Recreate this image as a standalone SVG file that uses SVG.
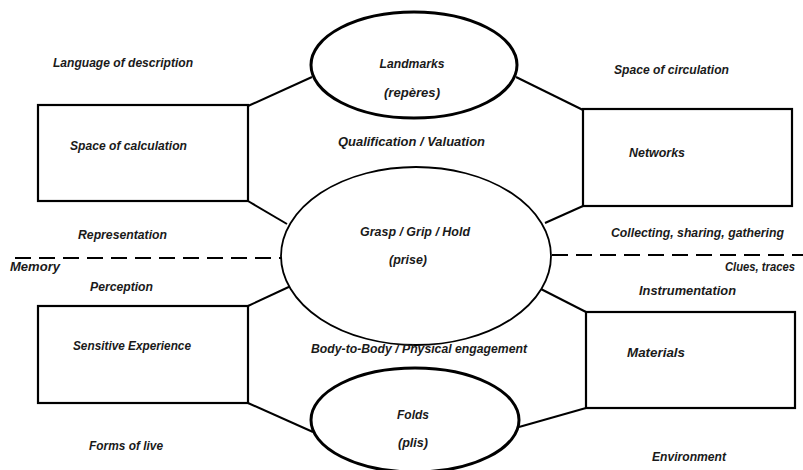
<svg xmlns="http://www.w3.org/2000/svg" width="803" height="470" viewBox="0 0 803 470">
<style>
text{font-family:"Liberation Sans",Arial,sans-serif;font-style:italic;font-weight:bold;font-size:12.5px;fill:#1a1a1a}
.c{text-anchor:middle}
.box{fill:#fff;stroke:#000;stroke-width:2.2}
.oval{fill:#fff;stroke:#000;stroke-width:3}
.oval2{fill:#fff;stroke:#000;stroke-width:1.8}
.ln{stroke:#000;stroke-width:2;fill:none}
.dash{stroke:#000;stroke-width:2.2;stroke-dasharray:16,8;fill:none}
</style>
<rect width="803" height="470" fill="#fff"/>
<g id="connectors">
<line class="ln" x1="248" y1="106" x2="312" y2="77"/>
<line class="ln" x1="516" y1="77" x2="583" y2="110"/>
<line class="ln" x1="248" y1="201" x2="287" y2="224"/>
<line class="ln" x1="583" y1="206" x2="545" y2="223"/>
<line class="ln" x1="293" y1="285" x2="248" y2="306"/>
<line class="ln" x1="537" y1="287" x2="586" y2="312"/>
<line class="ln" x1="248" y1="403" x2="313" y2="432"/>
<line class="ln" x1="586" y1="408" x2="519" y2="427"/>
<line class="dash" x1="15" y1="258" x2="283" y2="258"/>
<line class="dash" x1="552" y1="255" x2="803" y2="255"/>
</g>
<g id="landmarks">
<ellipse class="oval" cx="414" cy="65" rx="103" ry="53"/>
<text class="c" x="412" y="68" textLength="65" lengthAdjust="spacingAndGlyphs">Landmarks</text>
<text class="c" x="412" y="97" textLength="56" lengthAdjust="spacingAndGlyphs">(repères)</text>
</g>
<g id="grasp">
<ellipse class="oval2" cx="416" cy="256" rx="135" ry="89"/>
<text x="360" y="236" textLength="110" lengthAdjust="spacingAndGlyphs">Grasp / Grip / Hold</text>
<text class="c" x="408" y="264" textLength="38" lengthAdjust="spacingAndGlyphs">(prise)</text>
</g>
<g id="folds">
<ellipse class="oval" cx="415" cy="420" rx="104" ry="52"/>
<text class="c" x="413" y="419" textLength="32" lengthAdjust="spacingAndGlyphs">Folds</text>
<text class="c" x="413" y="447" textLength="30" lengthAdjust="spacingAndGlyphs">(plis)</text>
</g>
<g id="space-calculation">
<rect class="box" x="38" y="105" width="210" height="96"/>
<text x="70" y="150" textLength="117" lengthAdjust="spacingAndGlyphs">Space of calculation</text>
</g>
<g id="networks">
<rect class="box" x="583" y="109" width="209" height="97"/>
<text x="629" y="157" textLength="56" lengthAdjust="spacingAndGlyphs">Networks</text>
</g>
<g id="sensitive-experience">
<rect class="box" x="38" y="306" width="210" height="97"/>
<text x="73" y="350" textLength="118" lengthAdjust="spacingAndGlyphs">Sensitive Experience</text>
</g>
<g id="materials">
<rect class="box" x="586" y="312" width="209" height="96"/>
<text x="627" y="357" textLength="58" lengthAdjust="spacingAndGlyphs">Materials</text>
</g>
<g id="labels">
<text x="53" y="67" textLength="140" lengthAdjust="spacingAndGlyphs">Language of description</text>
<text x="614" y="74" textLength="115" lengthAdjust="spacingAndGlyphs">Space of circulation</text>
<text x="338" y="146" textLength="147" lengthAdjust="spacingAndGlyphs">Qualification / Valuation</text>
<text x="78" y="239" textLength="89" lengthAdjust="spacingAndGlyphs">Representation</text>
<text x="611" y="237" textLength="173" lengthAdjust="spacingAndGlyphs">Collecting, sharing, gathering</text>
<text x="10" y="271" textLength="50" lengthAdjust="spacingAndGlyphs">Memory</text>
<text x="725" y="271" textLength="70" lengthAdjust="spacingAndGlyphs">Clues, traces</text>
<text x="90" y="291" textLength="63" lengthAdjust="spacingAndGlyphs">Perception</text>
<text x="639" y="295" textLength="97" lengthAdjust="spacingAndGlyphs">Instrumentation</text>
<text x="311" y="353" textLength="216" lengthAdjust="spacingAndGlyphs">Body-to-Body / Physical engagement</text>
<text x="89" y="450" textLength="74" lengthAdjust="spacingAndGlyphs">Forms of live</text>
<text x="652" y="461" textLength="74" lengthAdjust="spacingAndGlyphs">Environment</text>
</g>
</svg>
